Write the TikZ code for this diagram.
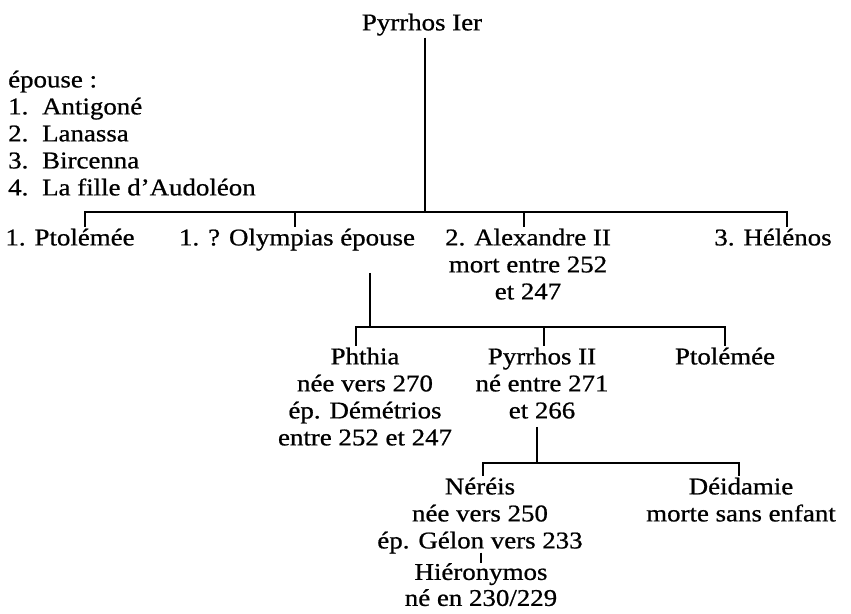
\documentclass[tikz,border=0pt]{standalone}
\usepackage{fontspec}
\setmainfont[FakeStretch=1.12,FakeBold=0.8]{Liberation Serif}
\begin{document}
\begin{tikzpicture}[x=1pt,y=-1pt,
    every node/.style={font=\fontsize{24}{27}\selectfont},
    person/.style={anchor=north, align=center, inner sep=2pt},
    branch/.style={line width=1.7pt}]
  % Fix the size of the page
  \useasboundingbox (0,0) rectangle (851,613);

  % Draw the first generation and the list of wives
  \node[person] (pyrrhos) at (422,11.5) {Pyrrhos Ier};
  \node[anchor=north west, align=left, inner sep=2pt] (spouses) at (6,68.5)
    {épouse :\\\makebox[34pt][l]{1.}Antigoné\\\makebox[34pt][l]{2.}Lanassa\\\makebox[34pt][l]{3.}Bircenna\\\makebox[34pt][l]{4.}La fille d’Audoléon};

  % Draw the children of Pyrrhos Ier
  \node[person] (ptolemee1) at (70,226.5) {1. Ptolémée};
  \node[person] (olympias) at (297,226.5) {1. ? Olympias épouse};
  \node[person] (alexandre) at (528,226.5) {2. Alexandre II\\mort entre 252\\et 247};
  \node[person] (helenos) at (773,226.5) {3. Hélénos};

  % Draw the children of Olympias
  \node[person] (phthia) at (365,345.5) {Phthia\\née vers 270\\ép. Démétrios\\entre 252 et 247};
  \node[person] (pyrrhos2) at (542,345.5) {Pyrrhos II\\né entre 271\\et 266};
  \node[person] (ptolemee2) at (725,345.5) {Ptolémée};

  % Draw the children of Pyrrhos II and the grandson
  \node[person] (nereis) at (480,475.5) {Néréis\\née vers 250\\ép. Gélon vers 233};
  \node[person] (deidamie) at (741,475.5) {Déidamie\\morte sans enfant};
  \node[person, font=\fontsize{24}{26}\selectfont] (hieronymos) at (481,561) {Hiéronymos\\né en 230/229};

  % Draw the branch of Pyrrhos Ier
  \coordinate (join1) at (425,212);
  \coordinate (left1) at (85,212);
  \coordinate (mid1) at (295,212);
  \coordinate (mid2) at (524,212);
  \coordinate (right1) at (787,212);
  \draw[branch] (pyrrhos.south -| join1) -- (join1);
  \draw[branch] (ptolemee1.north -| left1) -- (left1) -- (right1) -- (helenos.north -| right1);
  \draw[branch] (mid1) -- (olympias.north -| mid1);
  \draw[branch] (mid2) -- (alexandre.north -| mid2);

  % Draw the branch of Olympias
  \coordinate (join2) at (370,327);
  \coordinate (left2) at (356,327);
  \coordinate (mid3) at (544,327);
  \coordinate (right2) at (725,327);
  \draw[branch, shorten <=20pt] (olympias.south -| join2) -- (join2);
  \draw[branch] (phthia.north -| left2) -- (left2) -- (right2) -- (ptolemee2.north -| right2);
  \draw[branch] (mid3) -- (pyrrhos2.north -| mid3);

  % Draw the branch of Pyrrhos II
  \coordinate (join3) at (537,463);
  \coordinate (left3) at (483,463);
  \coordinate (right3) at (739,463);
  \draw[branch, shorten <=6pt] (pyrrhos2.south -| join3) -- (join3);
  \draw[branch] (nereis.north -| left3) -- (left3) -- (right3) -- (deidamie.north -| right3);
  \draw[branch, shorten <=-3pt, shorten >=-2pt] (nereis.south -| hieronymos) -- (hieronymos.north);
\end{tikzpicture}
\end{document}
